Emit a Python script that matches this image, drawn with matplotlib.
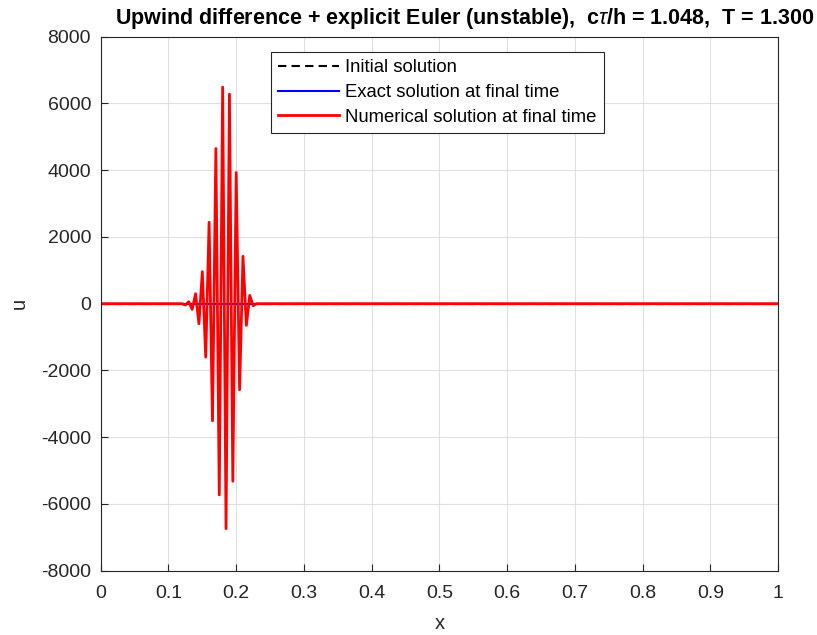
import numpy as np
import matplotlib.pyplot as plt
import matplotlib

matplotlib.rcParams['font.family'] = ['Liberation Sans', 'DejaVu Sans']
matplotlib.rcParams['mathtext.fontset'] = 'custom'
matplotlib.rcParams['mathtext.it'] = 'Liberation Sans:italic'
matplotlib.rcParams['axes.unicode_minus'] = False

# initial / exact solutions look flat at this scale
x_init = [0.0, 1.0]
u_init = [0.0, 0.0]
x_exact = [0.0, 1.0]
u_exact = [0.0, 0.0]

# numerical solution
x_num = [0.0, 0.12, 0.125, 0.13, 0.135, 0.14, 0.145, 0.15, 0.155, 0.16, 0.165,
         0.17, 0.175, 0.18, 0.185, 0.19, 0.195, 0.2, 0.205, 0.21, 0.215,
         0.22, 0.225, 0.23, 1.0]
u_num = [0, 0, -40, 60, -170, 300, -600, 960, -1600, 2440, -3510,
         4650, -5730, 6490, -6740, 6280, -5320, 3930, -2580, 1420, -650,
         250, -60, 0, 0]

fig = plt.figure(figsize=(8.17, 6.35), dpi=100)
ax = fig.add_axes([0.1233, 0.1013, 0.8290, 0.8409])

ax.plot(x_init, u_init, color='k', ls=(0, (4, 2.5)), lw=1.5, label='Initial solution')
ax.plot(x_exact, u_exact, 'b-', lw=1.5, label='Exact solution at final time')
ax.plot(x_num, u_num, 'r-', lw=2, label='Numerical solution at final time')

ax.set_xlim(0, 1)
ax.set_ylim(-8000, 8000)
ax.set_xticks(np.arange(0, 1.01, 0.1))
ax.set_xticklabels(['0', '0.1', '0.2', '0.3', '0.4', '0.5', '0.6', '0.7', '0.8', '0.9', '1'])
ax.set_yticks(np.arange(-8000, 8001, 2000))
ax.tick_params(direction='in', labelsize=14, colors='#262626', length=5, pad=7)
ax.tick_params(axis='x', pad=10)
ax.grid(color='#e0e0e0', lw=0.8)
for s in ax.spines.values():
    s.set_color('#262626')
    s.set_linewidth(0.8)

ax.set_xlabel('x', fontsize=14.5, color='#262626', labelpad=9)
ax.set_ylabel('u', fontsize=14.5, color='#262626', labelpad=9)
ax.set_title(r'Upwind difference + explicit Euler (unstable),  c$\tau$/h = 1.048,  T = 1.300',
             fontsize=15.5, fontweight='bold', x=0.5377, pad=9)

leg = ax.legend(loc='upper left', bbox_to_anchor=(0.2513, 0.9713), fontsize=13.3,
                fancybox=False, edgecolor='#262626', framealpha=1,
                handlelength=3.3, borderpad=0.4, labelspacing=0.42, handletextpad=0.3,
                borderaxespad=0)
leg.get_frame().set_linewidth(0.8)

fig.savefig('out.png', dpi=100)
plt.close()
